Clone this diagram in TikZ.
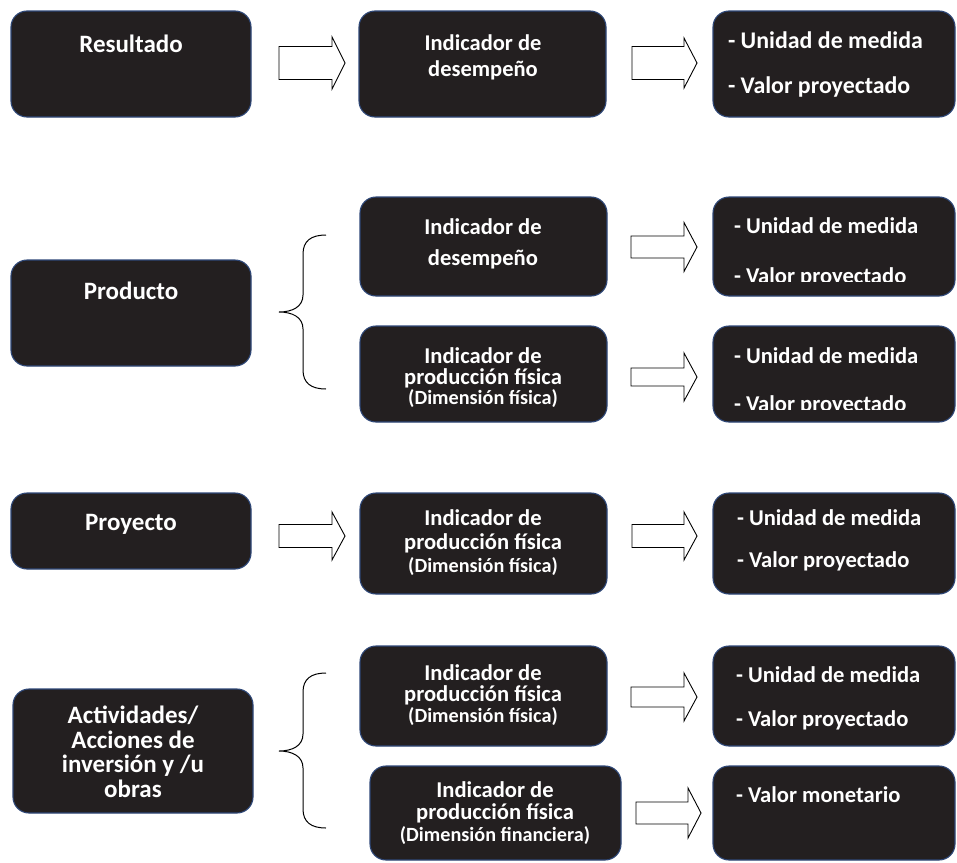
\documentclass[tikz,border=0pt]{standalone}
\usepackage{fontspec}
\setmainfont{Carlito}
\definecolor{boxfill}{RGB}{35,31,32}
\definecolor{boxline}{RGB}{47,72,120}
\tikzset{
  box/.style={draw=boxline, line width=1.1pt, fill=boxfill, rounded corners=16pt, inner sep=0pt, outer sep=0pt, anchor=north west},
  txt/.style={text=white, inner sep=0pt, outer sep=0pt, anchor=base},
  txtl/.style={txt, anchor=base west},
  fA/.style={font=\fontsize{25}{30}\selectfont\bfseries},
  fB/.style={font=\fontsize{22.6}{27}\selectfont\bfseries},
  fC/.style={font=\fontsize{20.2}{24}\selectfont\bfseries},
  blk/.style={draw=black, line width=0.9pt, fill=white, line join=miter},
  brc/.style={draw=black, line width=1pt},
}
\newcommand\mkbox[5]{\node[box, minimum width={(#4-#2)*1pt}, minimum height={(#5-#3)*1pt}] (#1) at (#2,#3) {};}
\newcommand\blkarrow[6]{\draw[blk] (#1,{#4-#5}) -- (#2,{#4-#5}) -- (#2,{#4-#6}) -- (#3,#4) -- (#2,{#4+#6}) -- (#2,{#4+#5}) -- (#1,{#4+#5}) -- cycle;}
\newcommand\mkbrace[3]{\draw[brc] (326,#1) .. controls (311,#1) and (303,{#1+6}) .. (303,{#1+19}) -- (303,{#2-17}) .. controls (303,{#2-5}) and (292,#2) .. (279,#2) .. controls (292,#2) and (303,{#2+5}) .. (303,{#2+17}) -- (303,{#3-19}) .. controls (303,{#3-6}) and (311,#3) .. (326,#3);}
\begin{document}
\begin{tikzpicture}[x=1pt,y=-1pt]
\fill[white] (0,0) rectangle (957,862);
\useasboundingbox (0,0) rectangle (957,862);

% Row 1
\mkbox{a1}{11}{11}{251}{117}
\mkbox{b1}{359}{11}{606}{117}
\mkbox{c1}{713}{11}{955}{117}
\blkarrow{279}{332}{345}{63}{16.5}{26}
\blkarrow{632}{684}{697}{63}{16.5}{25}
\node[txt,fA] (ta1) at (131,52) {Resultado};
\node[txt,font=\fontsize{22.5}{27}\selectfont\bfseries] (tb1a) at (483,50) {Indicador de};
\node[txt,font=\fontsize{22.5}{27}\selectfont\bfseries] (tb1b) at (483,76) {desempeño};
\node[txtl,font=\fontsize{23.9}{28}\selectfont\bfseries] (tc1a) at (728,48) {- Unidad de medida};
\node[txtl,font=\fontsize{23.9}{28}\selectfont\bfseries] (tc1b) at (728,93) {- Valor proyectado};

% Row 2
\mkbox{a2}{11}{260}{251}{366}
\mkbox{b2a}{360}{197}{607}{296}
\mkbox{c2a}{713}{197}{955}{296}
\mkbox{b2b}{360}{326}{607}{422}
\mkbox{c2b}{713}{326}{955}{422}
\mkbrace{235}{312}{389}
\blkarrow{631}{684}{697}{247}{11}{24.5}
\blkarrow{631}{684}{697}{377}{9}{24}
\node[txt,fA] (ta2) at (131,299) {Producto};
\node[txt,fB] (tb2a1) at (483,234) {Indicador de};
\node[txt,fB] (tb2a2) at (483,265) {desempeño};
\node[txt,fB] (tb2b1) at (483,363) {Indicador de};
\node[txt,fB] (tb2b2) at (483,384) {producción física};
\node[txt,fC] (tb2b3) at (483,404) {(Dimensión física)};
\node[txtl,fB] (tc2a1) at (734,233) {- Unidad de medida};
\begin{scope}
\clip (713,197) rectangle (955,281.5);
\node[txtl,fB] (tc2a2) at (734,283) {- Valor proyectado};
\end{scope}
\node[txtl,fB] (tc2b1) at (734,363) {- Unidad de medida};
\begin{scope}
\clip (713,326) rectangle (955,409.5);
\node[txtl,fB] (tc2b2) at (734,411) {- Valor proyectado};
\end{scope}

% Row 3
\mkbox{a3}{11}{493}{251}{569}
\mkbox{b3}{360}{493}{607}{594}
\mkbox{c3}{713}{493}{955}{594}
\blkarrow{279}{332}{345}{536}{11.5}{24}
\blkarrow{632}{684}{697}{536}{11.5}{24}
\node[txt,fA] (ta3) at (131,530) {Proyecto};
\node[txt,fB] (tb31) at (483,525) {Indicador de};
\node[txt,fB] (tb32) at (483,549) {producción física};
\node[txt,fC] (tb33) at (483,572) {(Dimensión física)};
\node[txtl,fB] (tc31) at (737,525) {- Unidad de medida};
\node[txtl,fB] (tc32) at (737,567) {- Valor proyectado};

% Row 4
\mkbox{a4}{13}{689}{253}{813}
\mkbox{b4a}{360}{646}{607}{746}
\mkbox{c4a}{713}{646}{955}{746}
\mkbox{b4b}{370}{766}{621}{860}
\mkbox{c4b}{713}{766}{955}{860}
\mkbrace{673}{751}{828}
\blkarrow{631}{684}{697}{697}{10}{24}
\blkarrow{636}{688}{701}{813}{11}{25}
\node[txt,fA] (ta41) at (133,723) {Actividades/};
\node[txt,fA] (ta42) at (133,748) {Acciones de};
\node[txt,fA] (ta43) at (133,772) {inversión y /u};
\node[txt,fA] (ta44) at (133,797) {obras};
\node[txt,fB] (tb4a1) at (483,680) {Indicador de};
\node[txt,fB] (tb4a2) at (483,701) {producción física};
\node[txt,fC] (tb4a3) at (483,722) {(Dimensión física)};
\node[txtl,fB] (tc4a1) at (736,682) {- Unidad de medida};
\node[txtl,fB] (tc4a2) at (736,726) {- Valor proyectado};
\node[txt,fB] (tb4b1) at (495,797) {Indicador de};
\node[txt,fB] (tb4b2) at (495,819) {producción física};
\node[txt,fC] (tb4b3) at (495,841) {(Dimensión financiera)};
\node[txtl,fB] (tc4b1) at (736,802) {- Valor monetario};
\end{tikzpicture}
\end{document}
